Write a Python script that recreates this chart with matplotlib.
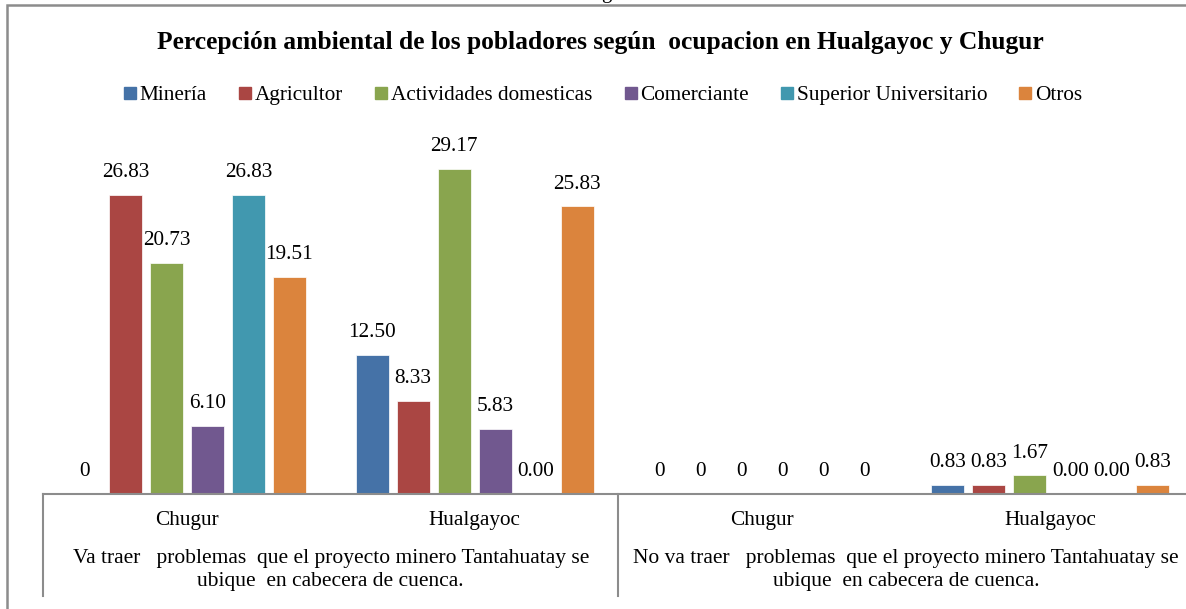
import matplotlib
matplotlib.use("Agg")
import matplotlib.pyplot as plt
from matplotlib.lines import Line2D
from matplotlib.patches import Rectangle
import numpy as np

plt.rcParams['font.family'] = ['Liberation Serif', 'DejaVu Serif']

# datos
zonas = ["Chugur", "Hualgayoc", "Chugur", "Hualgayoc"]
respuestas = ["Va traer   problemas  que el proyecto minero Tantahuatay se\nubique  en cabecera de cuenca.",
              "No va traer   problemas  que el proyecto minero Tantahuatay se\nubique  en cabecera de cuenca."]
series = ["Minería", "Agricultor", "Actividades domesticas", "Comerciante",
          "Superior Universitario", "Otros"]
colores = ["#4572A7", "#AA4643", "#89A54E", "#71588F", "#4198AF", "#DB843D"]
mineria = [0, 12.50, 0, 0.83]
agricultor = [26.83, 8.33, 0, 0.83]
domesticas = [20.73, 29.17, 0, 1.67]
comerciante = [6.10, 5.83, 0, 0.00]
superior = [26.83, 0.00, 0, 0.00]
otros = [19.51, 25.83, 0, 0.83]
valores = [mineria, agricultor, domesticas, comerciante, superior, otros]

W, H = 1186, 609
fig = plt.figure(figsize=(W / 100, H / 100), dpi=100)

# escala: 11.14 px por unidad, linea base en y=494 px
ymax = 36
ax = fig.add_axes([43 / W, (H - 494) / H, (1194 - 43) / W, ymax * 11.14 / H])
ax.set_xlim(-0.5, 3.5)
ax.set_ylim(0, ymax)

x = np.arange(4)
paso = 0.1424
ancho = 0.1146
for i, (nombre, vals, c) in enumerate(zip(series, valores, colores)):
    pos = x + (i - 2.5) * paso
    ax.bar(pos, vals, width=ancho, color=c, edgecolor="white", linewidth=0.5)
    for j, (p, v) in enumerate(zip(pos, vals)):
        if v == 0 and zonas[j] == "Chugur":
            txt = "0"
        else:
            txt = f"{v:.2f}"
        ax.annotate(txt, (p, v), xytext=(0, 16), textcoords="offset points",
                    ha="center", va="center", fontsize=15.3)

for s in ["top", "right", "left"]:
    ax.spines[s].set_visible(False)
ax.spines["bottom"].set_color("#8c8c8c")
ax.spines["bottom"].set_linewidth(1.5)
ax.set_xticks([])
ax.set_yticks([])

# separadores de categorias
ybot = -(596 - 494) / 11.14
for xs in [-0.5, 1.5]:
    ax.plot([xs, xs], [0, ybot], color="#8c8c8c", lw=1.5, clip_on=False)

# etiquetas del eje
for j, z in enumerate(zonas):
    ax.text(j, -(520 - 494) / 11.14, z, ha="center", va="center", fontsize=15.3)
for k, r in enumerate(respuestas):
    ax.text(0.5 + 2 * k, -(570 - 494) / 11.14, r, ha="center", va="center",
            fontsize=15.5, linespacing=1.25)

# titulo
fig.text(600 / W, 1 - 43 / H,
         "Percepción ambiental de los pobladores según  ocupacion en Hualgayoc y Chugur",
         ha="center", va="center", fontsize=18.4, fontweight="bold")

# leyenda
handles = [Line2D([], [], marker="s", color=c, linestyle="", markersize=8) for c in colores]
fig.legend(handles, series, loc="center", bbox_to_anchor=(603 / W, 1 - 95 / H), ncol=6,
           frameon=False, fontsize=15.3, handlelength=0.6, handletextpad=0.15,
           columnspacing=1.5)

# borde del grafico
fig.patches.append(Rectangle((7 / W, -0.1), 1.2, 1.1 - 5 / H, transform=fig.transFigure,
                             fill=False, edgecolor="#8c8c8c", lw=1.8))
# fragmento de texto superior recortado
fig.text(606 / W, 1 + 2 / H, "g", ha="center", va="baseline", fontsize=15)

fig.savefig("out.png", dpi=100)
